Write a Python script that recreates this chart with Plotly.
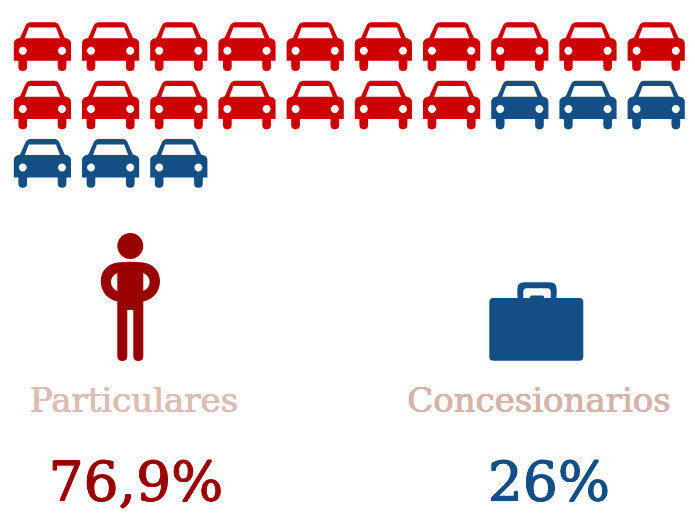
import plotly.graph_objects as go

# Data
categories = ["Particulares", "Concesionarios"]
value_labels = ["76,9%", "26%"]
car_counts = [17, 6]
cars_per_row = 10

RED = "#cc0000"
DARK_RED = "#990000"
BLUE = "#134f85"
LABEL_COLORS = ["#dcbdb4", "#d6b3a8"]
VALUE_COLORS = [DARK_RED, BLUE]
FONT = "DejaVu Serif"
PAGE_INSET = 8  # the browser's page margin


def heavy(color, w):
    return (f"{w}px 0 0 {color}, -{w}px 0 0 {color}, 0 {w}px 0 {color}, 0 -{w}px 0 {color}")


def circle(cx, cy, r):
    k = 0.5523 * r
    return (f"M{cx-r},{cy} C{cx-r},{cy-k} {cx-k},{cy-r} {cx},{cy-r} "
            f"C{cx+k},{cy-r} {cx+r},{cy-k} {cx+r},{cy} "
            f"C{cx+r},{cy+k} {cx+k},{cy+r} {cx},{cy+r} "
            f"C{cx-k},{cy+r} {cx-r},{cy+k} {cx-r},{cy} Z")


def rrect(x0, y0, x1, y1, r):
    return (f"M{x0+r},{y0} L{x1-r},{y0} Q{x1},{y0} {x1},{y0+r} L{x1},{y1-r} "
            f"Q{x1},{y1} {x1-r},{y1} L{x0+r},{y1} Q{x0},{y1} {x0},{y1-r} "
            f"L{x0},{y0+r} Q{x0},{y0} {x0+r},{y0} Z")


def car_path(cx, top):
    X = lambda v: round(cx + v, 2)
    Y = lambda v: round(top + v, 2)
    body = (
        f"M{X(-12)},{Y(0)} L{X(12)},{Y(0)} Q{X(15.5)},{Y(0)} {X(17)},{Y(3.5)} "
        f"L{X(22.3)},{Y(15.5)} L{X(25.5)},{Y(16.5)} Q{X(28.6)},{Y(18)} {X(28.6)},{Y(21)} "
        f"L{X(28.6)},{Y(38.4)} L{X(-28.6)},{Y(38.4)} L{X(-28.6)},{Y(21)} "
        f"Q{X(-28.6)},{Y(18)} {X(-25.5)},{Y(16.5)} L{X(-22.3)},{Y(15.5)} L{X(-17)},{Y(3.5)} "
        f"Q{X(-15.5)},{Y(0)} {X(-12)},{Y(0)} Z "
    )
    window = (
        f"M{X(-17.6)},{Y(16)} L{X(17.6)},{Y(16)} L{X(13.6)},{Y(5.3)} L{X(-13.6)},{Y(5.3)} Z "
    )
    lights = circle(X(-19.6), Y(28.4), 4) + " " + circle(X(19.6), Y(28.4), 4) + " "
    wheels = ""
    for a, b in ((-24, -15.3), (15.3, 24)):
        wheels += (f"M{X(a)},{Y(38.4)} L{X(b)},{Y(38.4)} L{X(b)},{Y(44.4)} "
                   f"Q{X(b)},{Y(48.7)} {X((a+b)/2)},{Y(48.7)} Q{X(a)},{Y(48.7)} {X(a)},{Y(44.4)} Z ")
    return body + window + lights + wheels


shapes = []
seq = [RED] * car_counts[0] + [BLUE] * car_counts[1]
for i, col in enumerate(seq):
    row, c = divmod(i, cars_per_row)
    shapes.append(dict(type="path", xref="x", yref="y", path=car_path(42.4 + 68.2 * c, 22.3 + 58.4 * row),
                       fillcolor=col, line_width=0, fillrule="evenodd"))

person = circle(130.3, 246, 13) + " " + (
    "M117.3,262.5 Q130,261 143.3,262.5 C153,263.5 160,271 160,281 C160,292 153,299.5 143.3,301.5 "
    "L143.3,356 Q143.3,361 138.3,361 Q133.3,361 133.3,356 L133.3,310 L127.3,310 L127.3,356 "
    "Q127.3,361 122.3,361 Q117.3,361 117.3,356 L117.3,301.5 C108,299.5 100.7,292 100.7,281 "
    "C100.7,271 108,263.5 117.3,262.5 Z "
    "M117.3,273 C113,275 111,278 111,282 C111,286 113,289 117.3,291 Z "
    "M143.3,273 C147.6,275 149.6,278 149.6,282 C149.6,286 147.6,289 143.3,291 Z"
)
shapes.append(dict(type="path", xref="x", yref="y", path=person, fillcolor=DARK_RED, line_width=0, fillrule="evenodd"))

handle = rrect(517.3, 282.3, 556.7, 302, 7) + " " + rrect(523.3, 288.3, 550.7, 308, 3.5)
shapes.append(dict(type="path", xref="x", yref="y", path=handle, fillcolor=BLUE, line_width=0, fillrule="evenodd"))
shapes.append(dict(type="path", xref="x", yref="y", path=rrect(489.3, 298, 583.3, 360.7, 4), fillcolor=BLUE, line_width=0))
shapes.append(dict(type="path", xref="x", yref="y", path=rrect(530, 295.5, 544, 300, 1.5), fillcolor=BLUE, line_width=0))

fig = go.Figure()
fig.add_trace(go.Scatter(x=[134, 539], y=[403.5, 403.5], mode="text", text=categories,
                         textposition="middle center", hoverinfo="skip", showlegend=False,
                         textfont=dict(family=FONT, size=34, color=LABEL_COLORS,
                                       shadow=[heavy(c, 0.3) for c in LABEL_COLORS])))
fig.add_trace(go.Scatter(x=[136, 549], y=[487, 487], mode="text", text=value_labels,
                         textposition="middle center", hoverinfo="skip", showlegend=False,
                         textfont=dict(family=FONT, size=55, color=VALUE_COLORS,
                                       shadow=[heavy(c, 0.6) for c in VALUE_COLORS])))

fig.update_layout(
    width=695 - PAGE_INSET, height=522 - PAGE_INSET, margin=dict(l=0, r=0, t=0, b=0),
    paper_bgcolor="white", plot_bgcolor="white", shapes=shapes,
    xaxis=dict(range=[PAGE_INSET, 695], visible=False, fixedrange=True),
    yaxis=dict(range=[522, PAGE_INSET], visible=False, fixedrange=True),
    showlegend=False,
)
fig.write_html("out.html")
